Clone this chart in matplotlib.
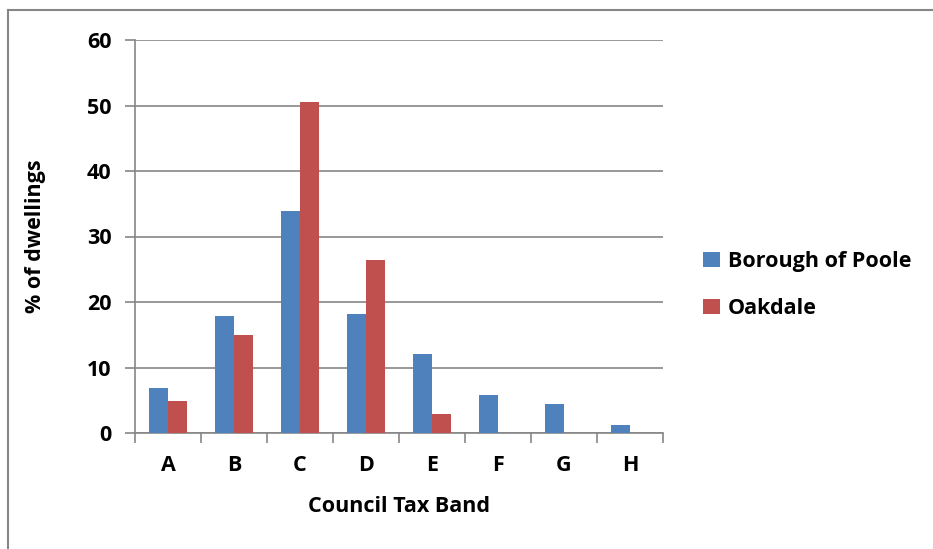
import numpy as np
import matplotlib.pyplot as plt
from matplotlib.lines import Line2D

# Council tax band distribution
bands = ['A', 'B', 'C', 'D', 'E', 'F', 'G', 'H']
poole = [6.8, 17.8, 33.9, 18.1, 12.0, 5.8, 4.5, 1.2]
oakdale = [4.9, 15.0, 50.6, 26.4, 2.9, 0.05, 0.0, 0.0]
series_names = ['Borough of Poole', 'Oakdale']

plt.rcParams['font.family'] = ['Open Sans', 'DejaVu Sans']
plt.rcParams['font.weight'] = 'bold'
FS = 15.5

W, H = 933, 549
fig = plt.figure(figsize=(W / 100, H / 100), dpi=100)
ax = fig.add_axes([135 / W, 1 - 433 / H, (663 - 135) / W, (433 - 40) / H])

grey = '#868686'
x = np.arange(len(bands))
bw = 1 / 3.5
ax.bar(x - bw / 2, poole, bw, color='#4F81BD', label=series_names[0], zorder=3)
ax.bar(x + bw / 2, oakdale, bw, color='#C0504D', label=series_names[1], zorder=3)

ax.set_xlim(-0.5, len(bands) - 0.5)
ax.set_ylim(0, 60)
ax.set_yticks(range(0, 61, 10))
ax.yaxis.grid(True, color=grey, linewidth=1.2, zorder=0)

ax.set_xticks(x)
ax.set_xticklabels(bands, fontsize=FS, fontweight='bold')
ax.set_xticks(np.arange(-0.5, len(bands)), minor=True)
ax.tick_params(axis='x', which='major', length=0, pad=16)
ax.tick_params(axis='x', which='minor', length=7, color=grey, width=1.2)
ax.tick_params(axis='y', length=7, color=grey, width=1.2, labelsize=FS, pad=10)
for lab in ax.get_yticklabels():
    lab.set_fontweight('bold')

for side in ['top', 'right']:
    ax.spines[side].set_visible(False)
for side in ['left', 'bottom']:
    ax.spines[side].set_color(grey)
    ax.spines[side].set_linewidth(1.2)

ax.set_xlabel('Council Tax Band', fontsize=FS, fontweight='bold', labelpad=14)
ax.set_ylabel('% of dwellings', fontsize=FS, fontweight='bold', labelpad=29)

fig.legend(loc='center left', bbox_to_anchor=(684 / W, 1 - 285 / H), frameon=False,
           handlelength=0.75, handleheight=0.75, labelspacing=1.2,
           handletextpad=0.4, prop={'family': ['Open Sans'], 'weight': 'bold', 'size': FS})

# outer chart border (only left and top visible)
fig.add_artist(Line2D([8 / W, 8 / W], [0, 1 - 10 / H], color=grey, linewidth=1.5))
fig.add_artist(Line2D([8 / W, 1], [1 - 10 / H, 1 - 10 / H], color=grey, linewidth=1.5))

fig.savefig('out.png', dpi=100)
